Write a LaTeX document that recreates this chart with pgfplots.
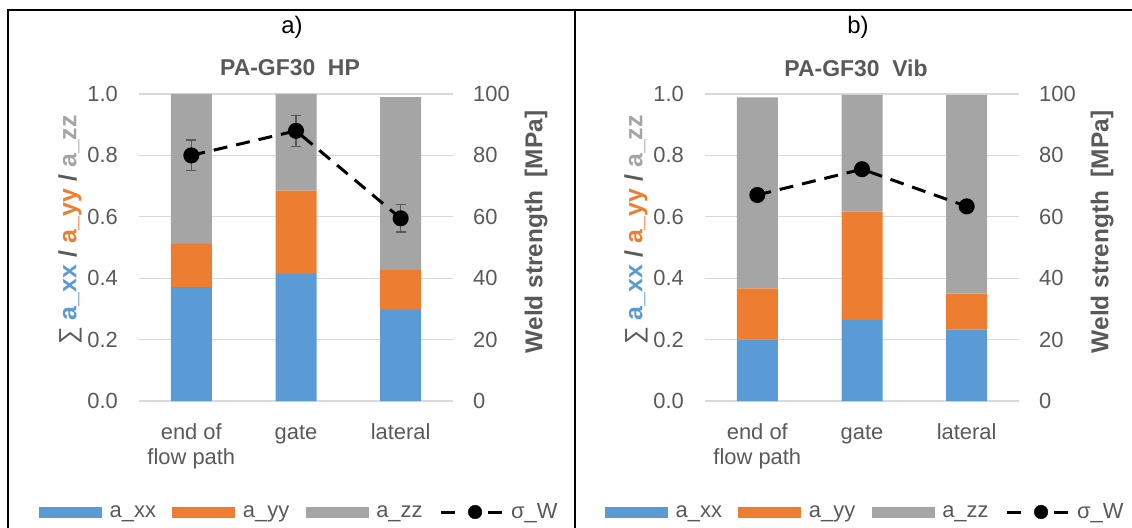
\documentclass[border=0pt]{standalone}
\usepackage{pgfplots}
\pgfplotsset{compat=1.18}
\usepackage{fontspec}
\setmainfont{Liberation Sans}
\definecolor{cxx}{HTML}{5B9BD5}
\definecolor{cyy}{HTML}{ED7D31}
\definecolor{czz}{HTML}{A5A5A5}
\definecolor{txt}{HTML}{595959}
\definecolor{gridc}{HTML}{D9D9D9}
\newcommand{\tf}{\fontsize{22}{26}\selectfont}
\pgfplotsset{
  common/.style={
    scale only axis, width=314bp, height=307bp, anchor=south west,
    xmin=-0.5, xmax=2.5,
    axis line style={draw=none}, tick style={draw=none},
    /pgf/number format/assume math mode=true,
    clip=false,
  },
  barax/.style={
    common,
    ybar stacked, bar width=41bp,
    ymin=0, ymax=1,
    xtick={0,1,2},
    xticklabels={{\begin{tabular}[t]{@{}c@{}}end of\\flow path\end{tabular}}, gate, lateral},
    ytick={0,0.2,0.4,0.6,0.8,1},
    ymajorgrids, major grid style={gridc, line width=1.2bp},
    xticklabel style={font=\tf, text=txt, anchor=base, inner sep=0pt, yshift=-38bp},
    yticklabel style={font=\tf, text=txt, anchor=east, inner sep=0pt, xshift=-21bp,
      /pgf/number format/fixed, /pgf/number format/fixed zerofill, /pgf/number format/precision=1},
    legend columns=4,
    legend style={at={(axis description cs:-0.3185,-0.3616)}, anchor=west, draw=none, fill=none,
      inner sep=0pt, font=\tf, text=txt, nodes={inner sep=0pt, text=txt},
      /tikz/every odd column/.style={column sep=7.5bp},
      /tikz/every even column/.style={column sep=16.5bp}},
    legend cell align=left,
  },
  lineax/.style={
    common,
    ymin=0, ymax=100,
    axis y line*=right, hide x axis,
    ytick={0,20,40,60,80,100},
    yticklabel style={font=\tf, text=txt, anchor=west, inner sep=0pt, xshift=20bp},
  },
  wline/.style={black, line width=3bp, dash pattern=on 14bp off 9bp, mark=*, mark size=6.5bp,
    mark options={solid, fill=black},
    error bars/.cd, y dir=both, y explicit,
    error bar style={txt, line width=1.3bp, solid},
    error mark options={rotate=90, mark size=5bp, txt, line width=1.3bp, solid}},
  barleg/.style={legend image code/.code={\fill[#1] (0bp,-5.5bp) rectangle (63bp,5.5bp);}},
}
\newcommand{\lineleg}{\addlegendimage{legend image code/.code={
  \draw[black, line width=3bp] (0bp,0bp)--(14.5bp,0bp);
  \draw[black, line width=3bp] (47bp,0bp)--(61.5bp,0bp);
  \fill[black] (34.5bp,0bp) circle (6.8bp);}}}
\begin{document}
\begin{tikzpicture}
\useasboundingbox (0bp,0bp) rectangle (1132bp,528bp);
% frame
\draw[black, line width=2bp] (8bp,0bp) -- (8bp,518bp) -- (1132bp,518bp);
\draw[black, line width=2bp] (575bp,0bp) -- (575bp,518bp);

% ---------- panel a ----------
\begin{axis}[barax, at={(139bp,127bp)}]
\addplot[fill=cxx, draw=none, barleg=cxx] coordinates {(0,0.371) (1,0.414) (2,0.297)};
\addlegendentry{a\_xx}
\addplot[fill=cyy, draw=none, barleg=cyy] coordinates {(0,0.141) (1,0.271) (2,0.129)};
\addlegendentry{a\_yy}
\addplot[fill=czz, draw=none, barleg=czz] coordinates {(0,0.488) (1,0.315) (2,0.564)};
\addlegendentry{a\_zz}
\lineleg
\addlegendentry{σ\_W}
\end{axis}
\begin{axis}[lineax, at={(139bp,127bp)}]
\addplot[wline] coordinates {(0,80) +- (0,5) (1,88) +- (0,5) (2,59.5) +- (0,4.5)};
\end{axis}
\node[font=\fontsize{24}{28}\selectfont, text=black] at (292bp,501bp) {a)};
\node[font=\fontsize{23}{28}\selectfont\bfseries, text=txt] at (290bp,460bp) {PA-GF30\ \ HP};
\node[rotate=90, font=\fontsize{25}{28}\selectfont, text=txt] at (70bp,298bp)
  {∑ \textbf{\textcolor{cxx}{a\_xx} / \textcolor{cyy}{a\_yy} / \textcolor{czz}{a\_zz}}};
\node[rotate=90, font=\fontsize{24.5}{28}\selectfont\bfseries, text=txt] at (536bp,296bp)
  {Weld strength\ \ [MPa]};

% ---------- panel b ----------
\begin{axis}[barax, at={(705bp,127bp)}]
\addplot[fill=cxx, draw=none, barleg=cxx] coordinates {(0,0.201) (1,0.264) (2,0.233)};
\addlegendentry{a\_xx}
\addplot[fill=cyy, draw=none, barleg=cyy] coordinates {(0,0.166) (1,0.353) (2,0.117)};
\addlegendentry{a\_yy}
\addplot[fill=czz, draw=none, barleg=czz] coordinates {(0,0.622) (1,0.380) (2,0.647)};
\addlegendentry{a\_zz}
\lineleg
\addlegendentry{σ\_W}
\end{axis}
\begin{axis}[lineax, at={(705bp,127bp)}]
\addplot[wline] coordinates {(0,67.1) +- (0,1) (1,75.5) +- (0,1) (2,63.4) +- (0,1)};
\end{axis}
\node[font=\fontsize{24}{28}\selectfont, text=black] at (858bp,501bp) {b)};
\node[font=\fontsize{23}{28}\selectfont\bfseries, text=txt] at (856bp,460bp) {PA-GF30\ \ Vib};
\node[rotate=90, font=\fontsize{25}{28}\selectfont, text=txt] at (636bp,298bp)
  {∑ \textbf{\textcolor{cxx}{a\_xx} / \textcolor{cyy}{a\_yy} / \textcolor{czz}{a\_zz}}};
\node[rotate=90, font=\fontsize{24.5}{28}\selectfont\bfseries, text=txt] at (1102bp,296bp)
  {Weld strength\ \ [MPa]};
\end{tikzpicture}
\end{document}
